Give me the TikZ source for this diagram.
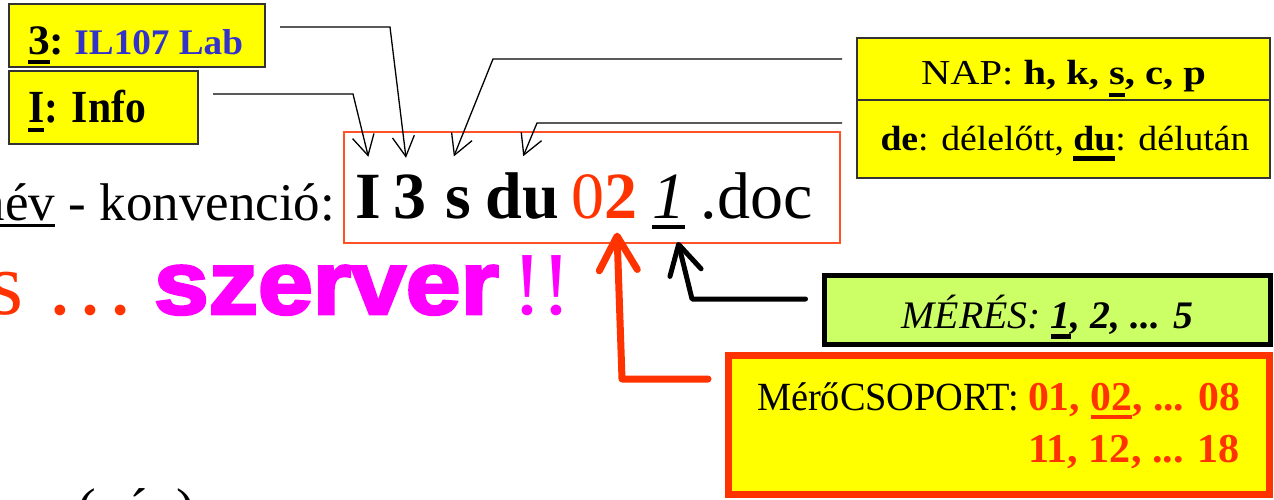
\documentclass[tikz,border=0pt]{standalone}
\usepackage{fontspec}
\usepackage{graphicx}
\setmainfont{Liberation Serif}
\newfontface\heavysans{Liberation Sans Bold}[FakeBold=3]
\usetikzlibrary{arrows.meta,calc}
\definecolor{labyellow}{HTML}{FFFF00}
\definecolor{labblue}{HTML}{3333CC}
\definecolor{laborange}{HTML}{FF3300}
\definecolor{labpink}{HTML}{FF00FF}
\definecolor{labgreen}{HTML}{CCFF66}
\definecolor{labgray}{HTML}{333333}
\newcommand\fs[1]{\fontsize{#1}{#1}\selectfont}
\newcommand\myul[3]{\setbox0=\hbox{#3}\rlap{\rule[-#1pt]{\wd0}{#2pt}}\box0\relax}
\newcommand\fitw[2]{\resizebox{#1}{\height}{#2}}
\begin{document}
\begin{tikzpicture}[x=1pt,y=-1pt,
  txt/.style={inner sep=0pt, outer sep=0pt, anchor=base west},
  ctxt/.style={inner sep=0pt, outer sep=0pt, anchor=base},
  ybox/.style={draw=labgray, line width=2pt, fill=labyellow, inner sep=0pt, outer sep=0pt, anchor=north west},
  callout/.style={line width=1.3pt, -{Straight Barb[length=20pt,width=22pt]}},
  bigarrow/.style={line width=7pt, laborange, line cap=round, line join=round, -{Straight Barb[length=34pt,width=38pt,round]}},
  blackarrow/.style={line width=5pt, black, line cap=round, line join=round, -{Straight Barb[length=29pt,width=32pt,round]}},
]
\useasboundingbox (0,0) rectangle (1274,500);
\clip (0,0) rectangle (1274,500);

% boxes
\node[ybox, minimum width=256pt, minimum height=63pt] (box3) at (9,4) {};
\node[ybox, minimum width=189pt, minimum height=73pt] (boxI) at (9,71) {};
\node[ybox, minimum width=413pt, minimum height=62pt] (boxNAP) at (857,38) {};
\node[ybox, minimum width=413pt, minimum height=78pt] (boxDE) at (857,100) {};
\node[draw=black, line width=5pt, fill=labgreen, inner sep=0pt, outer sep=0pt, anchor=north west,
      minimum width=446pt, minimum height=69pt] (boxMeres) at (824.5,275.5) {};
\node[draw=laborange, line width=7pt, fill=labyellow, inner sep=0pt, outer sep=0pt, anchor=north west,
      minimum width=541pt, minimum height=139pt] (boxCsop) at (728.5,355.5) {};
\node[draw=laborange!85!white, line width=1.5pt, inner sep=0pt, outer sep=0pt, anchor=north west,
      minimum width=496pt, minimum height=111pt] (frame) at (344,132) {};

% box texts
\node[txt] (lab3) at (28,55) {\fitw{215pt}{\bfseries\fs{42}\myul{9}{4}{3}:\hspace{10pt}\fs{36}\color{labblue}IL107 Lab}};
\node[txt] (labI) at (28,122) {\fitw{118pt}{\bfseries\fs{46}\myul{9.5}{4}{I}: Info}};
\node[ctxt] (labNAP) at (1063.5,85) {\fitw{285pt}{\fs{35}NAP: \textbf{h, k, \myul{11.7}{3.3}{s}, c, p}}};
\node[ctxt] (labDE) at (1065,150) {\fitw{369pt}{\fs{35}\textbf{de}: délelőtt, \textbf{\myul{10.7}{4.5}{du}}: délután}};
\node[ctxt] (labMeres) at (1047.5,328) {\fitw{292pt}{\fs{39}\itshape MÉRÉS: \bfseries\myul{10.7}{4.5}{1}, 2, ... 5}};
\node[inner sep=0pt, outer sep=0pt, anchor=base east] (labCsop) at (1019,410) {\fitw{262pt}{\fs{40}MérőCSOPORT:}};
\node[txt] (nums1) at (1028,410) {\color{laborange}\fitw{212pt}{\bfseries\fs{41}01, \myul{9.3}{4.3}{02}, ... 08}};
\node[txt] (nums2) at (1028,462) {\color{laborange}\fitw{212pt}{\bfseries\fs{41}11, 12, ... 18}};

% main lines
\node[inner sep=0pt, outer sep=0pt, anchor=base east] (konv) at (335,220) {\fs{53}\myul{7.3}{3.3}{név} - konvenció:};
\node[txt] (tI) at (355.5,218) {\fs{66}\bfseries I};
\node[txt] (t3) at (393,218) {\fs{66}\bfseries 3};
\node[txt] (ts) at (445,218) {\fs{66}\bfseries s};
\node[txt] (tdu) at (485.5,218) {\fs{66}\bfseries du};
\node[txt] (t02) at (571.5,218) {\fs{66}\color{laborange}0\textbf{2}};
\node[txt] (t1) at (652,218) {\fs{66}\myul{11}{4}{\itshape 1}};
\node[txt] (tdoc) at (700.5,218) {\fs{66}.doc};

\node[txt] (line2s) at (-12,314) {\fs{90}\color{laborange}s …};
\node[txt] (line2sz) at (154,314) {\color{labpink}\fitw{345pt}{\fs{90}\heavysans szerver}};
\node[txt] (line2ex) at (512,314) {\fs{90}\color{labpink}!!};
\node[txt] (bottom) at (77,527) {\fs{56}(név)};

% thin callouts
\coordinate (c3) at ($(box3.north east)+(15,23)$);
\coordinate (cI) at ($(boxI.north east)+(15,23)$);
\coordinate (cN) at ($(boxNAP.north west)+(-15,21)$);
\coordinate (cD) at ($(boxDE.north west)+(-15,23)$);
\draw[callout] (cI) -- (353,94) -- ($(tI.north)+(0,-18)$);
\draw[callout] (c3) -- (390,27) -- ($(t3.north)+(-3.5,-16.5)$);
\draw[callout] (cN) -- (493,59) -- ($(ts.north)+(-4,-30.5)$);
\draw[callout] (cD) -- (537,123) -- ($(tdu.north)+(1,-16)$);

% thick arrows
\coordinate (cCsop) at ($(boxCsop.north west)+(-20.5,23.5)$);
\coordinate (cMeres) at ($(boxMeres.north west)+(-19,23.5)$);
\draw[bigarrow] (cCsop) -- (622,379) -- ($(t02.south)+(12.5,14)$);
\draw[blackarrow] (cMeres) -- (692,299) -- ($(t1.south)+(9.5,13)$);
\end{tikzpicture}
\end{document}
